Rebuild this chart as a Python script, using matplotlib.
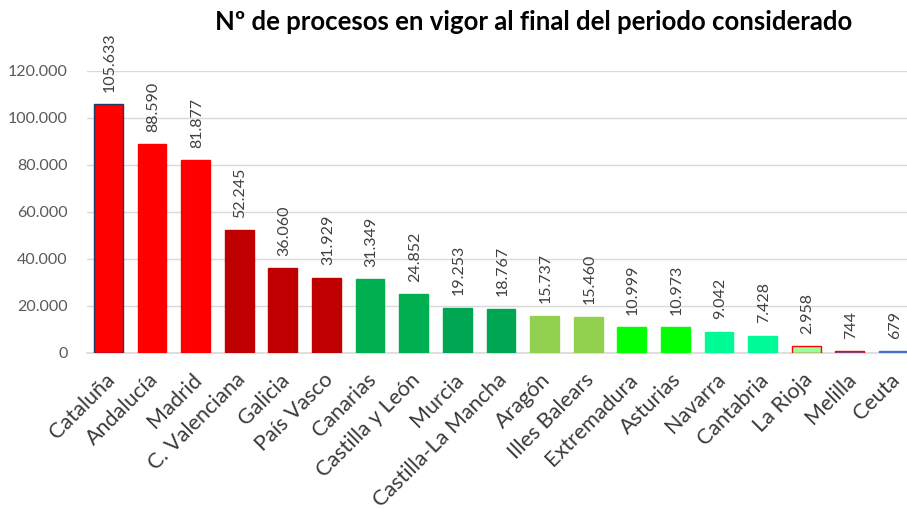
import matplotlib
matplotlib.use('Agg')
import matplotlib.pyplot as plt
from matplotlib.ticker import FuncFormatter
from matplotlib.transforms import ScaledTranslation

regions = ['Cataluña', 'Andalucía', 'Madrid', 'C. Valenciana', 'Galicia', 'País Vasco',
           'Canarias', 'Castilla y León', 'Murcia', 'Castilla-La Mancha', 'Aragón',
           'Illes Balears', 'Extremadura', 'Asturias', 'Navarra', 'Cantabria',
           'La Rioja', 'Melilla', 'Ceuta']
procesos = [105633, 88590, 81877, 52245, 36060, 31929, 31349, 24852, 19253, 18767,
            15737, 15460, 10999, 10973, 9042, 7428, 2958, 744, 679]
bar_colors = ['#FF0000', '#FF0000', '#FF0000', '#C00000', '#C00000', '#C00000',
              '#00B050', '#00B050', '#00A651', '#00A651', '#92D050', '#92D050',
              '#00FF00', '#00FF00', '#00FA96', '#00FA96', '#99FF99', '#4472C4', '#4472C4']
edge_colors = ['#1F3864', '#FF0000', '#FF0000', '#C00000', '#C00000', '#C00000',
               '#00B050', '#00B050', '#00A651', '#00A651', '#92D050', '#92D050',
               '#00FF00', '#00FF00', '#00FA96', '#00FA96', '#FF0000', '#FF0000', '#4472C4']
y_ticks = [0, 20000, 40000, 60000, 80000, 100000, 120000]


def miles(v, pos=None):
    return f'{int(v):,}'.replace(',', '.')


plt.rcParams['font.family'] = ['Lato', 'DejaVu Sans']

fig = plt.figure(figsize=(9.07, 5.09), dpi=100)
ax = fig.add_axes([87 / 907, 1 - 353 / 509, 1 - 87 / 907, (353 - 70.5) / 509])

x = range(len(regions))
ax.bar(x, procesos, width=0.66, color=bar_colors, edgecolor=edge_colors, linewidth=1.0, zorder=3)

for i, v in enumerate(procesos):
    ax.annotate(miles(v), (i, v), xytext=(1, 9), textcoords='offset points',
                rotation=90, ha='center', va='bottom', fontsize=11.5,
                color='#404040', annotation_clip=False)

ax.set_xlim(-0.49, 18.31)
ax.set_ylim(0, 120000)
ax.set_yticks(y_ticks)
ax.yaxis.set_major_formatter(FuncFormatter(miles))
ax.grid(axis='y', color='#D9D9D9', linewidth=1, zorder=0)
ax.set_axisbelow(True)

for side in ['top', 'right', 'left']:
    ax.spines[side].set_visible(False)
ax.spines['bottom'].set_color('#D9D9D9')
ax.spines['bottom'].set_linewidth(1.2)

ax.tick_params(axis='y', length=0, pad=14, labelsize=11.5, labelcolor='#595959')
ax.tick_params(axis='x', length=0, pad=12, labelcolor='#3A3A3A')
ax.set_xticks(list(x))
ax.set_xticklabels(regions, rotation=45, ha='right', rotation_mode='anchor', fontsize=15.5)
shift = ScaledTranslation(-4 / 100, 0, fig.dpi_scale_trans)
for lbl in ax.get_xticklabels():
    lbl.set_transform(lbl.get_transform() + shift)

fig.text(534 / 907, 1 - 22 / 509, 'Nº de procesos en vigor al final del periodo considerado',
         ha='center', va='center', fontsize=18.5, fontweight='bold', color='#000000')

fig.savefig('out.png', dpi=100, facecolor='white')
